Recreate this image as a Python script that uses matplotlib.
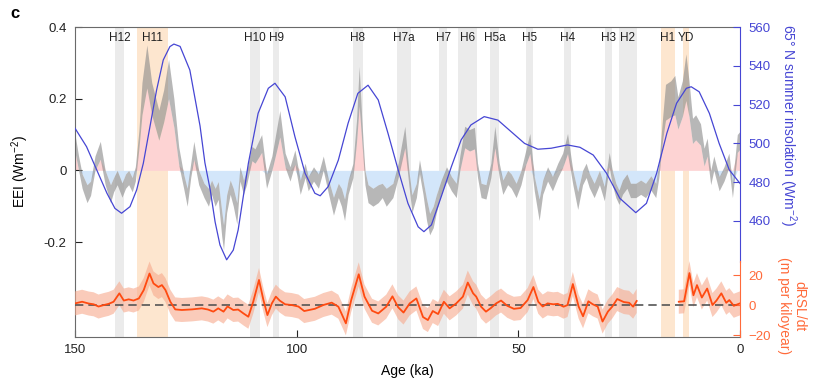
import numpy as np
import matplotlib
matplotlib.use("Agg")
import matplotlib.pyplot as plt

plt.rcParams['font.family'] = ['Liberation Sans', 'DejaVu Sans']
plt.rcParams['mathtext.default'] = 'regular'

# Heinrich / YD events: name, older edge, younger edge (ka)
event_names = ['H12', 'H11', 'H10', 'H9', 'H8', 'H7a', 'H7', 'H6', 'H5a', 'H5', 'H4', 'H3', 'H2', 'H1', 'YD']
event_old = [141.0, 136.1, 110.5, 105.4, 87.4, 77.4, 67.9, 63.7, 56.4, 48.3, 39.8, 30.4, 27.4, 17.9, 12.8]
event_young = [139.0, 129.0, 108.3, 103.9, 85.1, 74.1, 66.0, 59.4, 54.3, 46.8, 38.1, 28.9, 23.2, 14.7, 11.4]
event_warm = [False, True, False, False, False, False, False, False, False, False, False, False, False, True, True]

# EEI (W m-2), central value and half-width of the grey band
eei_age = [150.0, 149.2, 148.4, 147.3, 146.5, 145.5, 144.3, 143.2, 142.0, 141.3, 140.5, 139.4, 138.6, 137.9,
           137.1, 136.4, 135.6, 134.9, 133.8, 132.7, 131.1, 130.0, 128.9, 127.7, 126.6, 125.5, 124.7, 123.9,
           123.2, 122.1, 120.9, 119.9, 119.2, 118.4, 117.7, 116.9, 116.5, 115.8, 115.0, 114.3, 113.5, 112.8,
           112.0, 111.3, 110.1, 109.4, 107.9, 106.8, 105.6, 103.8, 102.6, 101.5, 100.4, 99.2, 98.1, 97.4,
           96.2, 95.1, 94.0, 92.8, 91.7, 90.6, 89.9, 89.2, 88.4, 87.3, 86.5, 85.9, 85.3, 84.6, 83.9, 82.8,
           81.6, 80.7, 79.8, 78.3, 77.1, 75.6, 74.7, 74.0, 73.0, 72.3, 71.5, 70.7, 70.0, 69.2, 68.5, 67.4,
           66.2, 65.1, 64.0, 63.2, 62.1, 61.0, 59.9, 59.2, 58.4, 57.3, 56.2, 55.3, 54.3, 53.5, 52.4, 51.6,
           50.5, 49.4, 48.3, 47.4, 46.4, 45.3, 44.5, 43.4, 42.3, 41.1, 40.0, 38.9, 37.7, 36.6, 35.5, 34.7,
           34.0, 32.9, 31.7, 30.6, 29.5, 28.8, 28.0, 27.3, 26.5, 25.5, 24.7, 23.5, 22.4, 21.3, 20.1, 19.0,
           18.3, 17.5, 16.8, 15.6, 14.7, 14.0, 13.0, 12.2, 11.5, 10.7, 10.0, 8.9, 8.1, 7.4, 6.6, 5.9,
           4.7, 3.6, 2.5, 1.7, 0.6, 0.0]
eei_mean = [0.075, 0.02, -0.03, -0.065, -0.05, 0.02, 0.056, -0.02, -0.065, -0.04, -0.02, -0.055, -0.03, -0.02,
            -0.04, -0.01, 0.085, 0.2, 0.29, 0.2, 0.126, 0.18, 0.255, 0.16, 0.04, -0.03, -0.075, 0.0,
            0.056, -0.02, -0.056, -0.075, -0.047, -0.075, -0.056, -0.15, -0.187, -0.093, -0.047, -0.075, -0.12, -0.01,
            -0.047, -0.02, 0.047, 0.04, 0.075, -0.03, 0.02, 0.13, 0.028, -0.01, 0.037, -0.047, 0.0, -0.037,
            -0.01, -0.03, 0.02, -0.047, -0.1, -0.056, -0.075, -0.11, -0.047, 0.0, 0.11, 0.235, 0.11, -0.02, -0.065, -0.075,
            -0.065, -0.056, -0.075, -0.056, 0.0, 0.093, -0.02, -0.093, -0.056, 0.01, -0.047, -0.11, -0.15, -0.13, -0.093, -0.047,
            -0.01, -0.037, -0.056, 0.02, 0.093, 0.084, 0.09, 0.0, -0.056, -0.06, 0.0, 0.093, 0.0, -0.047, -0.02, -0.03,
            -0.056, -0.02, 0.037, 0.075, -0.037, -0.11, -0.047, -0.01, -0.037, 0.0, 0.028, 0.075, -0.02, -0.084, -0.02, 0.0,
            -0.028, -0.056, -0.02, -0.065, 0.03, -0.02, -0.056, -0.075, -0.047, -0.03, -0.056, -0.056, -0.047, -0.056, -0.035, -0.056,
            0.0, 0.11, 0.19, 0.2, 0.21, 0.16, 0.2, 0.26, 0.2, 0.11, 0.12, 0.1, 0.037, 0.065, -0.02, 0.02,
            -0.037, -0.01, 0.028, -0.056, 0.075, 0.084]
eei_err = [0.025, 0.02, 0.02, 0.025, 0.02, 0.02, 0.025, 0.02, 0.025, 0.02, 0.02, 0.02, 0.02, 0.02,
           0.02, 0.02, 0.025, 0.045, 0.06, 0.045, 0.042, 0.045, 0.055, 0.04, 0.025, 0.02, 0.025, 0.02,
           0.025, 0.02, 0.02, 0.025, 0.02, 0.025, 0.025, 0.035, 0.035, 0.025, 0.02, 0.025, 0.03, 0.02,
           0.02, 0.02, 0.02, 0.02, 0.025, 0.02, 0.02, 0.037, 0.02, 0.02, 0.02, 0.02, 0.02, 0.02,
           0.02, 0.02, 0.02, 0.02, 0.025, 0.02, 0.025, 0.03, 0.02, 0.02, 0.03, 0.055, 0.03, 0.02, 0.025, 0.025,
           0.025, 0.02, 0.025, 0.02, 0.02, 0.03, 0.02, 0.025, 0.02, 0.02, 0.02, 0.03, 0.03, 0.03, 0.025, 0.02,
           0.02, 0.02, 0.02, 0.02, 0.03, 0.03, 0.03, 0.02, 0.02, 0.02, 0.02, 0.03, 0.02, 0.02, 0.02, 0.02,
           0.02, 0.02, 0.02, 0.028, 0.02, 0.03, 0.02, 0.02, 0.02, 0.02, 0.02, 0.028, 0.02, 0.025, 0.02, 0.02,
           0.02, 0.02, 0.02, 0.02, 0.02, 0.02, 0.02, 0.02, 0.02, 0.02, 0.02, 0.02, 0.02, 0.02, 0.02, 0.02,
           0.02, 0.03, 0.05, 0.05, 0.055, 0.045, 0.05, 0.065, 0.05, 0.035, 0.035, 0.03, 0.025, 0.025, 0.02, 0.02,
           0.02, 0.02, 0.02, 0.02, 0.025, 0.025]

# 65N summer insolation (W m-2)
ins_age = [150.0, 147.4, 145.1, 142.8, 141.0, 139.5, 137.6, 136.1, 134.6, 133.1, 131.6, 130.1, 128.6, 127.7,
           126.3, 124.1, 121.8, 120.7, 119.5, 118.4, 117.3, 115.8, 114.3, 113.2, 110.9, 108.7, 106.4, 104.9,
           102.6, 100.4, 98.1, 95.9, 94.7, 92.9, 90.6, 88.4, 86.2, 83.9, 81.6, 79.4, 77.1, 74.9,
           72.6, 71.3, 69.6, 67.4, 65.1, 62.9, 60.7, 57.7, 54.6, 51.6, 48.6, 45.6, 42.6, 38.9,
           36.1, 33.1, 30.1, 27.1, 23.5, 21.1, 18.8, 16.5, 14.3, 12.1, 11.0, 9.2, 6.9, 4.7, 2.4, 0.0]
ins_val = [507.8, 498.3, 486.3, 474.3, 466.5, 464.0, 467.4, 476.0, 489.7, 508.6, 527.5, 543.0, 549.9, 551.2,
           550.0, 537.8, 509.0, 490.0, 476.0, 459.5, 447.6, 440.0, 445.0, 455.4, 489.7, 515.5, 528.4, 531.0,
           524.0, 503.5, 484.6, 474.3, 473.0, 477.7, 491.4, 510.4, 525.8, 530.0, 522.4, 505.2, 486.3, 469.1,
           457.0, 454.5, 458.0, 472.5, 488.0, 501.8, 509.5, 513.8, 512.0, 506.0, 500.0, 497.0, 497.5, 499.2,
           498.0, 494.0, 484.6, 471.7, 464.3, 469.1, 484.6, 505.2, 520.7, 528.4, 529.2, 526.6, 515.5, 500.0, 486.3, 479.4]

# rate of relative sea-level change (m per kyr); nan = gap in record
rsl_age = [150.0, 148.4, 146.9, 145.8, 144.7, 143.5, 142.4, 141.3, 140.0, 139.0, 137.9, 136.8, 135.6, 134.5,
           133.2, 132.3, 131.2, 130.4, 129.6, 128.5, 127.4, 125.9, 123.6, 121.4, 120.0, 118.8, 117.7, 116.5,
           115.6, 114.3, 113.2, 112.0, 110.9, 109.8, 108.5, 107.5, 106.6, 105.6, 104.7, 103.8, 102.6, 101.1,
           99.6, 98.3, 95.9, 94.0, 92.1, 90.6, 89.9, 88.9, 87.7, 86.0, 84.7, 83.0, 81.6, 79.8,
           78.4, 77.1, 75.9, 74.5, 73.0, 71.5, 70.4, 69.3, 68.1, 66.8, 65.5, 64.0, 62.5, 61.4,
           60.2, 59.5, 58.4, 57.3, 56.2, 55.0, 53.9, 52.5, 51.0, 49.5, 47.9, 46.6, 45.5, 44.5,
           43.4, 42.1, 41.1, 39.8, 38.9, 37.7, 36.4, 35.4, 34.2, 33.2, 32.1, 31.0, 29.8, 28.8,
           27.7, 26.2, 25.0, 24.1, 23.3, 18.0,
           13.8, 12.6, 11.4, 10.5, 9.7, 8.6, 7.4, 6.2, 5.3, 4.2, 3.1, 2.4, 1.4, 0.0]
rsl_val = [1.1, 2.2, 1.0, 0.5, -1.0, 0.0, 0.8, 2.2, 7.8, 3.0, 3.8, 3.0, 4.4, 10.0,
           21.0, 14.4, 12.0, 13.3, 10.0, 2.2, -2.9, -3.3, -2.9, -2.2, -3.0, -4.4, -2.2, -4.4,
           -0.9, -3.3, -3.0, -5.6, -7.8, 2.2, 16.7, 3.3, -6.7, 1.1, 5.6, 2.9, 0.5, 0.0,
           -1.0, -4.0, -2.5, 0.0, 1.6, -1.1, -5.6, -12.2, 3.3, 20.5, 5.6, -3.8, -5.6, -1.1,
           5.8, -1.5, -5.0, 1.1, 4.4, -8.0, -10.0, -4.0, -6.0, 2.2, -2.2, 1.1, 5.6, 15.0,
           7.8, 5.6, -1.1, -4.4, -2.0, 1.1, 3.0, -0.5, -2.5, -2.0, 3.3, 12.0, 2.2, -1.0,
           1.1, 0.5, 0.8, -1.1, 0.0, 14.0, -1.0, -7.5, 2.5, 0.5, -1.0, -11.0, -4.4, -1.0,
           4.0, 2.0, 1.5, -1.1, 2.7, np.nan,
           2.2, 2.5, 21.3, 6.5, 13.3, 5.0, 11.0, 0.0, 3.0, 7.8, 1.5, 3.3, -0.5, 1.1]
rsl_err = 8.0

c_ins = '#4646d4'
c_rsl = '#ff4a10'
c_rsl_lab = '#ff6a3a'

fig = plt.figure(figsize=(8.2, 3.83), dpi=100)
ax = fig.add_axes([0.0915, 0.1201, 0.8109, 0.8094])

for name, a0, a1, warm in zip(event_names, event_old, event_young, event_warm):
    ax.axvspan(a1, a0, color='#fde6cf' if warm else '#ebebeb', lw=0, zorder=0)
    ax.text((a0 + a1) / 2, 0.965, name, transform=ax.get_xaxis_transform(),
            ha='center', va='center', fontsize=8.5, color='#222222')

age = np.array(eei_age)
m = np.array(eei_mean)
e = np.array(eei_err)
lo = m - e
hi = m + e
ax.fill_between(age, 0, np.clip(lo, 0, None), color='#fdd3d3', lw=0, zorder=1)
ax.fill_between(age, np.clip(hi, None, 0), 0, color='#d3e6fa', lw=0, zorder=1)
ax.fill_between(age, lo, hi, color='#8c8c8c', alpha=0.62, lw=0, zorder=2)

ax.set_xlim(150, 0)
ax.set_ylim(-0.465, 0.4)
ax.set_xticks([150, 100, 50, 0])
ax.set_yticks([-0.2, 0, 0.2, 0.4])
ax.set_yticklabels(['-0.2', '0', '0.2', '0.4'])
ax.tick_params(direction='in', length=5, labelsize=9.5, colors='#222222')
ax.tick_params(axis='y', pad=6)
ax.tick_params(axis='x', pad=5)
for s in ['left', 'bottom', 'top']:
    ax.spines[s].set_color('#6a6a6a')
ax.spines['right'].set_visible(False)
ax.set_xlabel('Age (ka)', fontsize=10, labelpad=6)
fig.text(20 / 820, 1 - 172 / 383, 'EEI (Wm$^{-2}$)', rotation=90, ha='center', va='center', fontsize=10)
fig.text(10 / 820, 1 - 14 / 383, 'c', fontsize=12, fontweight='bold', ha='left', va='center')

# insolation axis
ax2 = ax.twinx()
ax2.plot(ins_age, ins_val, color=c_ins, lw=0.9)
ax2.set_ylim(400.2, 560)
ax2.set_yticks([460, 480, 500, 520, 540, 560])
for s in ['left', 'bottom', 'top']:
    ax2.spines[s].set_visible(False)
ax2.spines['right'].set_color(c_ins)
ax2.spines['right'].set_bounds(439, 560)
ax2.tick_params(direction='in', length=5, labelsize=9.5, colors=c_ins, pad=6)
fig.text(788 / 820, 1 - 125 / 383, '65° N summer insolation (Wm$^{-2}$)', rotation=270,
         ha='center', va='center', fontsize=10, color=c_ins)

# dRSL/dt axis
ax3 = ax.twinx()
ra = np.array(rsl_age)
rv = np.array(rsl_val)
ax3.fill_between(ra, rv - rsl_err, rv + rsl_err, color='#f7a98c', alpha=0.6, lw=0)
ax3.axhline(0, color='#555555', lw=1.2, dashes=(5, 3))
ax3.plot(ra, rv, color=c_rsl, lw=1.3)
ax3.set_ylim(-21.3, 185.3)
ax3.set_yticks([-20, 0, 20])
for s in ['left', 'bottom', 'top']:
    ax3.spines[s].set_visible(False)
ax3.spines['right'].set_color(c_rsl_lab)
ax3.spines['right'].set_bounds(-21.3, 29.4)
ax3.tick_params(direction='in', length=5, labelsize=9.5, colors=c_rsl_lab, pad=6)
fig.text(792 / 820, 1 - 306 / 383, 'dRSL/dt\n(m per kiloyear)', rotation=270,
         ha='center', va='center', fontsize=10, color=c_rsl_lab, multialignment='center',
         linespacing=1.1)

fig.savefig('out.png', dpi=100)
